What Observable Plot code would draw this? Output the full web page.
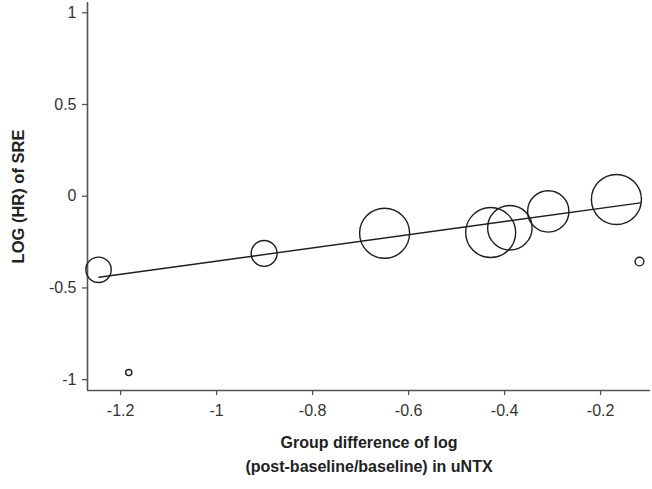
<!DOCTYPE html>
<html>
<head>
<meta charset="utf-8">
<script src="https://cdn.jsdelivr.net/npm/d3@7"></script>
<script src="https://cdn.jsdelivr.net/npm/@observablehq/plot@0.6"></script>
<style>
  html, body { margin: 0; padding: 0; background: #fff; }
  #chart { width: 652px; height: 489px; }
</style>
</head>
<body>
<div id="chart"></div>
<script>
// Study-level data
const studyX = [-1.246, -1.183, -0.901, -0.650, -0.429, -0.389, -0.309, -0.167, -0.119];
const studyY = [-0.401, -0.961, -0.312, -0.202, -0.198, -0.172, -0.083, -0.018, -0.356];
const studyWeight = [5.1, 0.3, 5.3, 19.8, 19.8, 15.7, 13.5, 19.8, 0.6];

// Meta-regression fitted line end points
const fitX = [-1.245, -0.117];
const fitY = [-0.442, -0.036];

// Axis ticks
const xTicks = [-1.2, -1, -0.8, -0.6, -0.4, -0.2];
const yTicks = [-1, -0.5, 0, 0.5, 1];

const xDomain = [-1.269, -0.096];
const yDomain = [-1.059, 1.056];

const studies = studyX.map((x, i) => ({x, y: studyY[i], w: studyWeight[i]}));
const fit = fitX.map((x, i) => ({x, y: fitY[i]}));

const axisColor = "#555";
const textColor = "#333";
const font = "'Liberation Sans', Arial, sans-serif";

const chart = Plot.plot({
  width: 652,
  height: 489,
  marginLeft: 87,
  marginRight: 2,
  marginTop: 2,
  marginBottom: 99,
  style: {fontFamily: font, background: "#fff", overflow: "visible"},
  x: {domain: xDomain},
  y: {domain: yDomain},
  r: {type: "sqrt", domain: [0, 19.8], range: [0, 25]},
  marks: [
    Plot.axisX({
      ticks: xTicks, tickSize: 5, tickPadding: 9,
      tickFormat: d => String(d), fontSize: 16, color: textColor,
      stroke: axisColor, strokeWidth: 1.3, label: null
    }),
    Plot.axisY({
      ticks: yTicks, tickSize: 5, tickPadding: 6,
      tickFormat: d => String(d), fontSize: 16, color: textColor,
      stroke: axisColor, strokeWidth: 1.3, label: null
    }),
    Plot.ruleY([yDomain[0]], {stroke: axisColor, strokeWidth: 1.6}),
    Plot.ruleX([xDomain[0]], {stroke: axisColor, strokeWidth: 1.6}),
    Plot.line(fit, {x: "x", y: "y", stroke: "#1e1e1e", strokeWidth: 1.4}),
    Plot.dot(studies, {x: "x", y: "y", r: "w", stroke: "#1e1e1e", strokeWidth: 1.4, fill: "none"}),
    Plot.text(["Group difference of log"], {
      text: d => d, frameAnchor: "bottom", dy: 52, dx: 0,
      fontSize: 16, fontWeight: "bold", fill: "#222", lineAnchor: "middle", textAnchor: "middle"
    }),
    Plot.text(["(post-baseline/baseline) in uNTX"], {
      text: d => d, frameAnchor: "bottom", dy: 76, dx: 0,
      fontSize: 16, fontWeight: "bold", fill: "#222", lineAnchor: "middle", textAnchor: "middle"
    }),
    Plot.text(["LOG (HR) of SRE"], {
      text: d => d, frameAnchor: "left", dx: -69, rotate: -90,
      fontSize: 16.5, fontWeight: "bold", fill: "#222", lineAnchor: "middle", textAnchor: "middle"
    })
  ]
});

document.getElementById("chart").appendChild(chart);
</script>
</body>
</html>
